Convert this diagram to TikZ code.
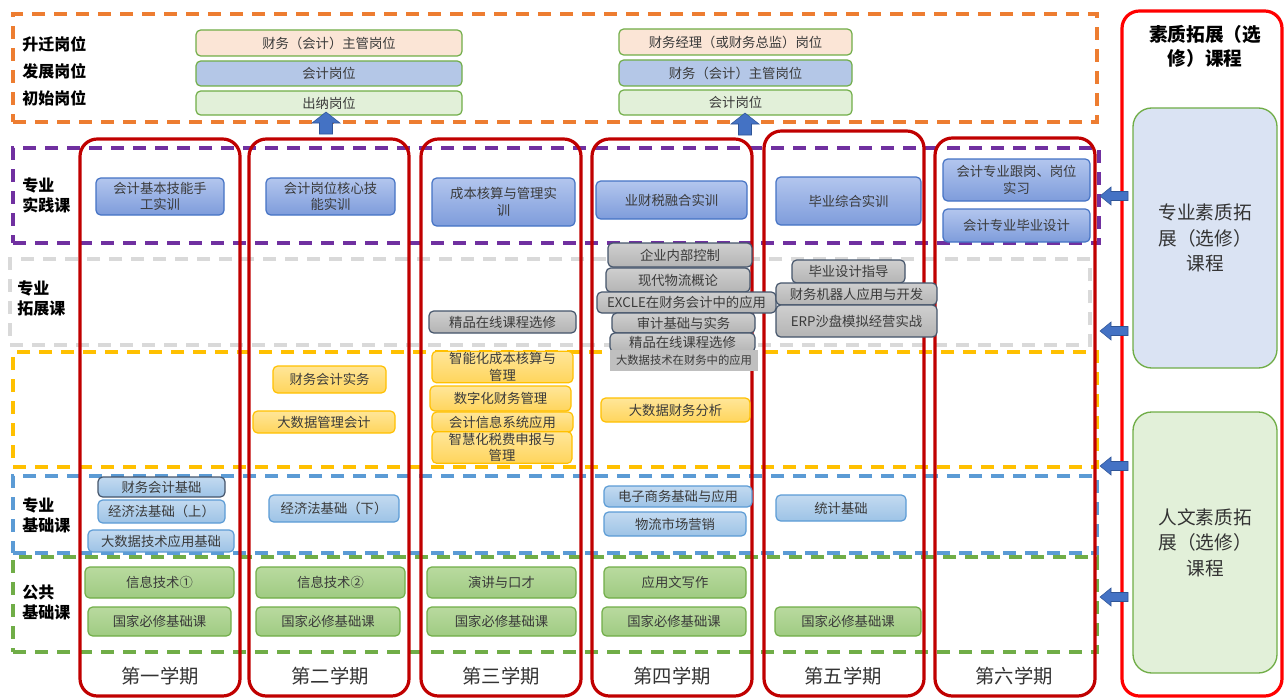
\documentclass[tikz,border=0pt]{standalone}
\usepackage{fontspec}
\setmainfont{Noto Sans CJK SC}
\definecolor{txt}{HTML}{3A3A3A}
\definecolor{orangeD}{HTML}{ED7D31}
\definecolor{purpleD}{HTML}{7030A0}
\definecolor{grayD}{HTML}{D9D9D9}
\definecolor{yellowD}{HTML}{FFC000}
\definecolor{blueD}{HTML}{5B9BD5}
\definecolor{greenD}{HTML}{70AD47}
\definecolor{semred}{HTML}{C00000}
\definecolor{brightred}{HTML}{FF0000}
\definecolor{arrowblue}{HTML}{4472C4}
\definecolor{cFBE5D6}{HTML}{FBE5D6}
\definecolor{cB4C7E7}{HTML}{B4C7E7}
\definecolor{cE2F0D9}{HTML}{E2F0D9}
\definecolor{cB3C6EE}{HTML}{B3C6EE}
\definecolor{c7E9CDB}{HTML}{7E9CDB}
\definecolor{cCFCFCF}{HTML}{CFCFCF}
\definecolor{cB4B4B4}{HTML}{B4B4B4}
\definecolor{c44546A}{HTML}{44546A}
\definecolor{cFFE699}{HTML}{FFE699}
\definecolor{cFFD55C}{HTML}{FFD55C}
\definecolor{cC3DAF0}{HTML}{C3DAF0}
\definecolor{c9DC3E6}{HTML}{9DC3E6}
\definecolor{cB9DA9F}{HTML}{B9DA9F}
\definecolor{c9FCB82}{HTML}{9FCB82}
\definecolor{c333333}{HTML}{333333}
\definecolor{c2F5597}{HTML}{2F5597}
\definecolor{cBFBFBF}{HTML}{BFBFBF}
\definecolor{cDAE3F3}{HTML}{DAE3F3}
\newcommand\cbox[7]{\node[#2, minimum width={(#5-#3)*0.75pt}, minimum height={(#6-#4)*0.75pt}] (#1) at ({(#3+#5)/2},{(#4+#6)/2}) {#7};}
\newcommand\uparrowat[3]{\coordinate (#1) at (#2,#3);
  \filldraw[blockarrow] (#1) ++(0,-12) -- ++(14,11) -- ++(-7.5,0) -- ++(0,11) -- ++(-13,0) -- ++(0,-11) -- ++(-7.5,0) -- cycle;}
\newcommand\leftarrowat[3]{\coordinate (#1) at (#2,#3);
  \filldraw[blockarrow] (#1) ++(-14,0) -- ++(11,-9) -- ++(0,4.5) -- ++(17,0) -- ++(0,9) -- ++(-17,0) -- ++(0,4.5) -- cycle;}
\tikzset{
  dbox/.style={draw, line width=2.4pt, dash pattern=on 10pt off 6.5pt, inner sep=0},
  semcol/.style={draw=semred, line width=2.4pt, rounded corners=13pt, inner sep=0},
  base/.style={rounded corners=3.5pt, draw, line width=0.9pt, inner sep=1pt, align=center,
     font=\fontsize{10}{12.5}\selectfont, text=txt},
  pos1/.style={base, fill=cFBE5D6, draw=greenD},
  pos2/.style={base, fill=cB4C7E7, draw=greenD},
  pos3/.style={base, fill=cE2F0D9, draw=greenD},
  prac/.style={base, top color=cB3C6EE, bottom color=c7E9CDB, draw=arrowblue},
  ext/.style={base, top color=cCFCFCF, bottom color=cB4B4B4, draw=c44546A},
  yel/.style={base, top color=cFFE699, bottom color=cFFD55C, draw=yellowD},
  lblue/.style={base, top color=cC3DAF0, bottom color=c9DC3E6, draw=blueD},
  grn/.style={base, top color=cB9DA9F, bottom color=c9FCB82, draw=greenD},
  cat/.style={anchor=west, align=left, font=\fontsize{12}{15}\selectfont\bfseries, inner sep=0},
  sem/.style={font=\fontsize{14.5}{16}\selectfont, text=c333333, inner sep=0},
  blockarrow/.style={fill=arrowblue, draw=c2F5597, line width=0.4pt, line join=miter},
}
\begin{document}
\begin{tikzpicture}[x={(0.75pt,0)}, y={(0,-0.75pt)}]
\useasboundingbox (0,0) rectangle (1285,699);
% dashed band boxes
\cbox{dOrange}{dbox, draw=orangeD}{13}{14}{1097}{122}{}
\cbox{dPurple}{dbox, draw=purpleD}{13}{148}{1099}{243}{}
\cbox{dGray}{dbox, draw=grayD}{10}{259}{1090}{345}{}
\cbox{dYellow}{dbox, draw=yellowD}{13}{352}{1097}{467}{}
\cbox{dBlue}{dbox, draw=blueD}{13}{476}{1097}{553}{}
\cbox{dGreen}{dbox, draw=greenD}{13}{557}{1097}{652}{}
% semester columns
\cbox{c1}{semcol}{80}{139}{240}{696}{}
\cbox{c2}{semcol}{249}{139}{409}{696}{}
\cbox{c3}{semcol}{421}{139}{581}{696}{}
\cbox{c4}{semcol}{592}{139}{752}{696}{}
\cbox{c5}{semcol}{764}{131}{924}{696}{}
\cbox{c6}{semcol}{935}{138}{1095}{696}{}
% right panel
\cbox{rp}{draw=brightred, line width=2.4pt, rounded corners=13pt, inner sep=0}{1122}{11}{1282}{696}{}
\node[font=\fontsize{14}{18}\selectfont\bfseries, align=center, inner sep=0] (rpt) at (1205,46) {素质拓展（选\\修）课程};
\cbox{rp1}{draw=greenD, line width=1pt, fill=cDAE3F3, rounded corners=14pt, align=center, font=\fontsize{14}{19}\selectfont, text=c333333}{1133}{108}{1277}{368}{专业素质拓\\展（选修）\\课程}
\cbox{rp2}{draw=greenD, line width=1pt, fill=cE2F0D9, rounded corners=14pt, align=center, font=\fontsize{14}{19}\selectfont, text=c333333}{1133}{412}{1277}{673}{人文素质拓\\展（选修）\\课程}
% left arrows
\leftarrowat{la1}{1114}{196}
\leftarrowat{la2}{1114}{331}
\leftarrowat{la3}{1114}{466}
\leftarrowat{la4}{1114}{597}
% category labels
\node[cat] (l1) at (22,44) {升迁岗位};
\node[cat] (l2) at (22,71) {发展岗位};
\node[cat] (l3) at (22,98) {初始岗位};
\node[cat] (l4) at (22,195) {专业\\实践课};
\node[cat] (l5) at (17,298) {专业\\拓展课};
\node[cat] (l6) at (22,515) {专业\\基础课};
\node[cat] (l7) at (22,602) {公共\\基础课};
% positions
\cbox{p1}{pos1}{196}{30}{462}{56}{财务（会计）主管岗位}
\cbox{p2}{pos2}{196}{61}{462}{86}{会计岗位}
\cbox{p3}{pos3}{196}{91}{462}{115}{出纳岗位}
\cbox{p4}{pos1}{619}{29}{852}{55}{财务经理（或财务总监）岗位}
\cbox{p5}{pos2}{619}{60}{852}{86}{财务（会计）主管岗位}
\cbox{p6}{pos3}{619}{90}{852}{115}{会计岗位}
\uparrowat{ua1}{326}{124}
\uparrowat{ua2}{745}{125}
% practice courses
\cbox{s1}{prac}{96}{178}{224}{215}{会计基本技能手\\工实训}
\cbox{s2}{prac}{266}{178}{395}{215}{会计岗位核心技\\能实训}
\cbox{s3}{prac}{432}{178}{575}{226}{成本核算与管理实\\训}
\cbox{s4}{prac}{596}{181}{747}{219}{业财税融合实训}
\cbox{s5}{prac}{776}{177}{921}{225}{毕业综合实训}
\cbox{s6}{prac}{943}{159}{1090}{201}{会计专业跟岗、岗位\\实习}
\cbox{s7}{prac}{943}{209}{1090}{242}{会计专业毕业设计}
% extension courses
\cbox{e1}{ext}{429}{311}{576}{333}{精品在线课程选修}
\cbox{e2}{ext}{608}{243}{752}{267}{企业内部控制}
\cbox{e3}{ext}{606}{268}{750}{292}{现代物流概论}
\cbox{e4}{ext}{597}{292}{776}{313}{EXCLE在财务会计中的应用}
\cbox{e5}{ext}{612}{313}{755}{333}{审计基础与实务}
\cbox{e6}{ext}{610}{333}{755}{352}{精品在线课程选修}
\cbox{e7}{fill=cBFBFBF, inner sep=0, font=\fontsize{8.5}{10}\selectfont, text=txt}{610}{350}{758}{371}{大数据技术在财务中的应用}
\cbox{e8}{ext}{792}{260}{905}{283}{毕业设计指导}
\cbox{e9}{ext}{776}{283}{937}{305}{财务机器人应用与开发}
\cbox{e10}{ext}{776}{305}{937}{337}{ERP沙盘模拟经营实战}
% yellow band courses
\cbox{y1}{yel}{273}{366}{386}{393}{财务会计实务}
\cbox{y2}{yel}{253}{411}{395}{433}{大数据管理会计}
\cbox{y3}{yel}{432}{354}{573}{380}{智能化成本核算与\\管理}
\cbox{y4}{yel}{430}{386}{571}{411}{数字化财务管理}
\cbox{y5}{yel}{432}{412}{573}{432}{会计信息系统应用}
\cbox{y6}{yel}{432}{435}{572}{460}{智慧化税费申报与\\管理}
\cbox{y7}{yel}{601}{398}{750}{422}{大数据财务分析}
% professional basic courses
\cbox{b1}{lblue, draw=c44546A}{98}{477}{225}{497}{财务会计基础}
\cbox{b2}{lblue}{98}{500}{225}{523}{经济法基础（上）}
\cbox{b3}{lblue}{88}{530}{234}{552}{大数据技术应用基础}
\cbox{b4}{lblue}{269}{495}{399}{522}{经济法基础（下）}
\cbox{b5}{lblue}{604}{486}{752}{507}{电子商务基础与应用}
\cbox{b6}{lblue}{604}{512}{746}{536}{物流市场营销}
\cbox{b7}{lblue}{776}{495}{906}{521}{统计基础}
% public courses
\cbox{g1}{grn}{85}{567}{234}{598}{信息技术①}
\cbox{g2}{grn}{88}{607}{231}{636}{国家必修基础课}
\cbox{g3}{grn}{256}{567}{405}{598}{信息技术②}
\cbox{g4}{grn}{256}{607}{400}{636}{国家必修基础课}
\cbox{g5}{grn}{427}{567}{576}{598}{演讲与口才}
\cbox{g6}{grn}{427}{607}{576}{636}{国家必修基础课}
\cbox{g7}{grn}{604}{567}{746}{598}{应用文写作}
\cbox{g8}{grn}{602}{607}{746}{636}{国家必修基础课}
\cbox{g9}{grn}{775}{607}{921}{636}{国家必修基础课}
% semester labels
\node[sem] (t1) at (160,676) {第一学期};
\node[sem] (t2) at (330,676) {第二学期};
\node[sem] (t3) at (501,676) {第三学期};
\node[sem] (t4) at (672,676) {第四学期};
\node[sem] (t5) at (843,676) {第五学期};
\node[sem] (t6) at (1014,676) {第六学期};
\end{tikzpicture}
\end{document}
